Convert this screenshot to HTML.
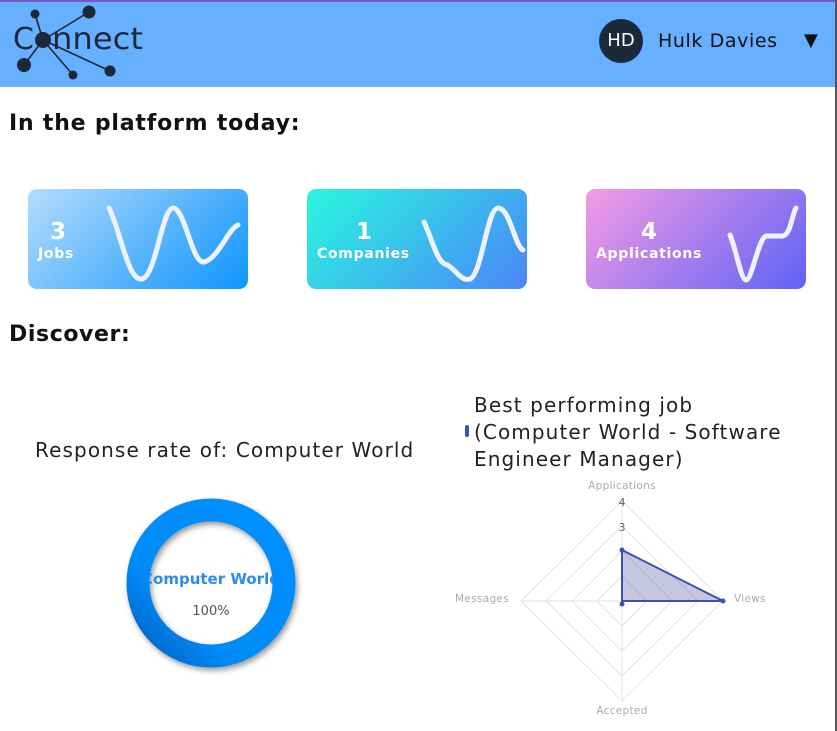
<!DOCTYPE html>
<html><head><meta charset="utf-8"><style>
body{margin:0;width:837px;height:731px;overflow:hidden;background:#fff;font-family:"DejaVu Sans","Liberation Sans",sans-serif;position:relative}
.a{position:absolute;white-space:nowrap}
.card{position:absolute;top:189px;width:220px;height:100px;border-radius:9px;overflow:hidden}
.num{position:absolute;color:#fff;font-weight:bold;font-size:23px;transform:translate(-50%,-50%)}
.lab{position:absolute;color:#fff;font-weight:bold;font-size:14px;transform:translateY(-50%);letter-spacing:0.7px}
</style></head><body>
<div class="a" style="left:0;top:0;width:837px;height:2px;background:#7a55c0"></div>
<div class="a" style="left:0;top:2px;width:837px;height:85px;background:#66b0ff"></div>
<div class="a" style="left:835px;top:0;width:2px;height:731px;background:#555"></div>
<svg class="a" style="left:0;top:0" width="160" height="90">
<g stroke="#1c2838" stroke-width="1.6"><line x1="43" y1="40" x2="35" y2="14"/><line x1="43" y1="40" x2="89" y2="12"/><line x1="43" y1="40" x2="24" y2="65"/><line x1="43" y1="40" x2="73" y2="75"/><line x1="43" y1="40" x2="110" y2="71"/></g>
<g fill="#1c2838"><circle cx="43" cy="40" r="8"/><circle cx="35" cy="14" r="4.5"/><circle cx="89" cy="12" r="6.5"/><circle cx="24" cy="65" r="7"/><circle cx="73" cy="75" r="4.5"/><circle cx="110" cy="71" r="5.5"/></g>
<text x="13" y="49" font-family="DejaVu Sans" font-size="30" fill="#1c2838">C</text>
<text x="52" y="49" font-family="DejaVu Sans" font-size="30" fill="#1c2838" textLength="91" lengthAdjust="spacingAndGlyphs">nnect</text>
</svg>
<div class="a" style="left:599px;top:19px;width:44px;height:44px;border-radius:50%;background:#1b2a3a;color:#fff;font-size:18px;line-height:44px;text-align:center">HD</div>
<div class="a" style="left:658px;top:30px;font-size:19px;color:#111;letter-spacing:0.6px">Hulk Davies</div>
<div class="a" style="left:804px;top:30px;font-size:18px;color:#111">▼</div>
<div class="a" style="left:9px;top:111px;font-size:22px;font-weight:bold;color:#111;letter-spacing:0.8px">In the platform today:</div>
<div class="card" style="left:28px;background:linear-gradient(135deg,#b4dcfd,#0d95fb)">
<svg width="220" height="100" style="position:absolute;left:0;top:0"><path d="M81,19 C92,40 100,93 114,90 C128,87 134,19 145,19 C157,19 164,75 176,73 C190,70 200,40 210,36" fill="none" stroke="#eef2ff" stroke-width="5" stroke-linecap="round"/></svg>
<div class="num" style="left:30px;top:43px">3</div><div class="lab" style="left:10px;top:65px">Jobs</div></div>
<div class="card" style="left:307px;background:linear-gradient(135deg,#29f7de,#4a86f8)">
<svg width="220" height="100" style="position:absolute;left:0;top:0"><path d="M117,33 C125,50 130,72 138,75 C148,78 153,93 163,90 C175,85 180,19 191,19 C203,19 208,58 216,61" fill="none" stroke="#eef2ff" stroke-width="5" stroke-linecap="round"/></svg>
<div class="num" style="left:57px;top:43px">1</div><div class="lab" style="left:10px;top:65px">Companies</div></div>
<div class="card" style="left:586px;background:linear-gradient(135deg,#f59be3,#5f62f6)">
<svg width="220" height="100" style="position:absolute;left:0;top:0"><path d="M144,46 C150,60 155,91 160,91 C166,91 172,50 180,47 L197,47 C205,45 206,25 210,19" fill="none" stroke="#eef2ff" stroke-width="5" stroke-linecap="round"/></svg>
<div class="num" style="left:63px;top:43px">4</div><div class="lab" style="left:10px;top:65px">Applications</div></div>
<div class="a" style="left:9px;top:322px;font-size:22px;font-weight:bold;color:#111;letter-spacing:0.6px">Discover:</div>
<div class="a" style="left:35px;top:438px;font-size:20px;color:#222;letter-spacing:1.1px">Response rate of: Computer World</div>
<div class="a" style="left:474px;top:392px;font-size:20px;line-height:27px;color:#222;letter-spacing:1.1px">Best performing job<br>(Computer World - Software<br>Engineer Manager)</div>
<div class="a" style="left:465px;top:425px;width:4px;height:12px;border-radius:2px;background:#3d4fb5"></div>
<svg class="a" style="left:0;top:480px" width="837" height="251" font-family="DejaVu Sans">
<defs><filter id="sh" x="-20%" y="-20%" width="140%" height="140%"><feDropShadow dx="2" dy="3" stdDeviation="3" flood-opacity="0.4"/></filter>
<linearGradient id="dg" x1="0" y1="1" x2="1" y2="0"><stop offset="0" stop-color="#0060c0"/><stop offset="0.3" stop-color="#008cf8"/><stop offset="1" stop-color="#0090ff"/></linearGradient>
<clipPath id="cc"><circle cx="211" cy="103" r="62"/></clipPath></defs>
<circle cx="211" cy="103" r="73" fill="none" stroke="url(#dg)" stroke-width="23" filter="url(#sh)"/>
<g clip-path="url(#cc)"><text x="211" y="104" text-anchor="middle" font-size="15" font-weight="bold" fill="#2a8cf0">Computer World</text></g>
<text x="211" y="135" text-anchor="middle" font-size="13" fill="#555">100%</text>
<g fill="none" stroke="#e2e2e2" stroke-width="1">
<polygon points="622,21 723,121 622,221 521,121"/><polygon points="622,46 698,121 622,196 546,121"/><polygon points="622,71 672,121 622,171 572,121"/><polygon points="622,96 647,121 622,146 597,121"/>
<line x1="622" y1="21" x2="622" y2="221"/><line x1="521" y1="121" x2="723" y2="121"/></g>
<g font-size="10.5" fill="#aaa" text-anchor="middle" letter-spacing="0.3"><text x="622" y="9">Applications</text><text x="622" y="234">Accepted</text><text x="482" y="122">Messages</text><text x="750" y="122">Views</text></g>
<g font-size="11" fill="#666" text-anchor="middle"><text x="622" y="26">4</text><text x="622" y="51">3</text></g>
<polygon points="622,70 723,121 622,121" fill="rgba(60,70,150,0.3)" stroke="#3d4fb5" stroke-width="2"/>
<g fill="#3d4fb5"><circle cx="622" cy="70" r="2.5"/><circle cx="723" cy="121" r="2.5"/><circle cx="622" cy="124" r="2.5"/></g>
</svg>
</body></html>
